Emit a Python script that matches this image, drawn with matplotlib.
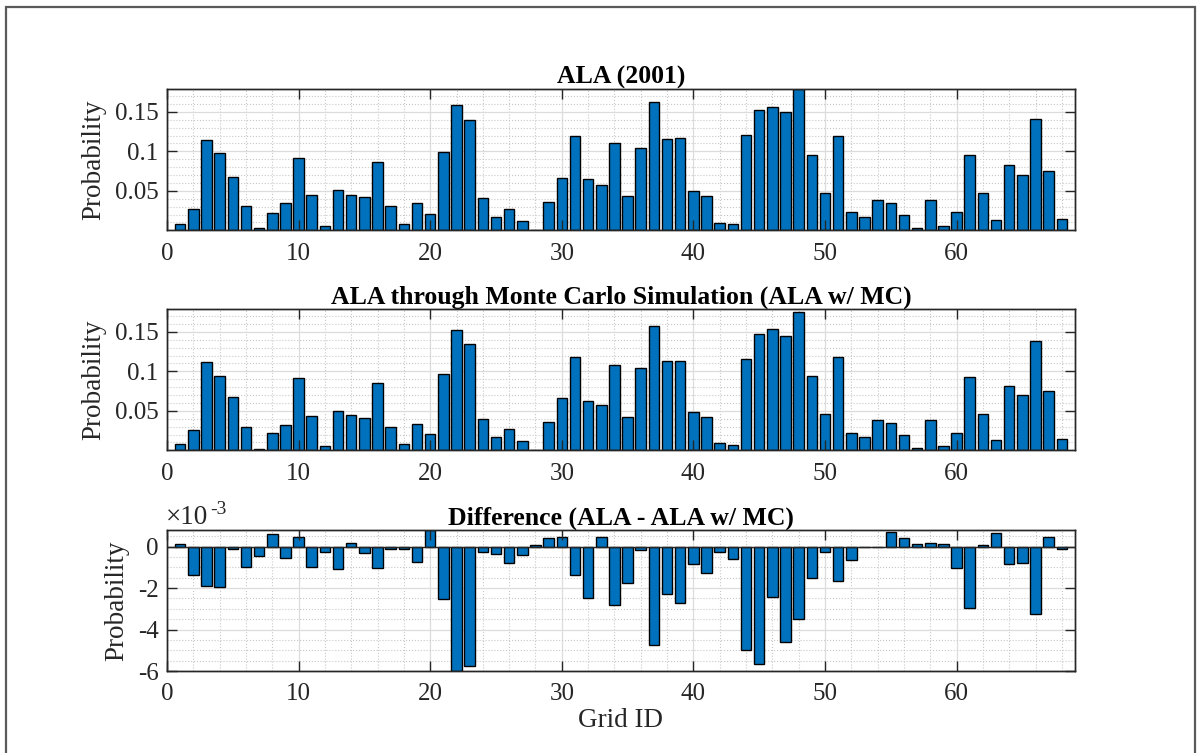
import numpy as np
import matplotlib
matplotlib.use("Agg")
import matplotlib.pyplot as plt
from matplotlib.ticker import MultipleLocator, FixedLocator
from matplotlib.patches import Rectangle

plt.rcParams['font.family'] = ['Liberation Serif', 'DejaVu Serif']

grid_id = np.arange(1, 69)

ala = [0.0085, 0.0276, 0.114, 0.0973, 0.068, 0.0306, 0.003, 0.0217, 0.034, 0.0918,
       0.0446, 0.006, 0.051, 0.045, 0.0417, 0.0867, 0.0306, 0.0085, 0.0349, 0.0204,
       0.0995, 0.1585, 0.140, 0.0408, 0.017, 0.0276, 0.0119, 0.0005, 0.0357, 0.0663,
       0.120, 0.0646, 0.057, 0.111, 0.0434, 0.1046, 0.1624, 0.1152, 0.1165, 0.050,
       0.0438, 0.0098, 0.0077, 0.1207, 0.1526, 0.156, 0.1496, 0.179, 0.0952, 0.0472,
       0.120, 0.023, 0.017, 0.039, 0.0344, 0.019, 0.003, 0.0383, 0.0055, 0.023,
       0.0956, 0.0468, 0.0128, 0.0825, 0.0706, 0.1415, 0.0748, 0.0149]

ala_mc = [0.0076, 0.0254, 0.1115, 0.0946, 0.0674, 0.0293, 0.0013, 0.0216, 0.0327, 0.0916,
          0.0432, 0.0055, 0.0496, 0.0445, 0.0407, 0.0848, 0.0297, 0.0076, 0.0335, 0.0204,
          0.0962, 0.152, 0.1344, 0.0403, 0.0165, 0.0267, 0.0114, 0.0003, 0.0356, 0.0666,
          0.1183, 0.0619, 0.0572, 0.1077, 0.0416, 0.1043, 0.1577, 0.1128, 0.1136, 0.0488,
          0.0424, 0.0093, 0.0068, 0.1158, 0.1471, 0.1535, 0.145, 0.1755, 0.0937, 0.0466,
          0.1179, 0.022, 0.0165, 0.0386, 0.0348, 0.0195, 0.0025, 0.0382, 0.0051, 0.0216,
          0.0924, 0.0462, 0.0131, 0.0814, 0.0695, 0.1382, 0.0746, 0.014]

# difference in units of 1e-3
diff_e3 = [0.13, -1.37, -1.89, -1.97, -0.11, -0.98, -0.47, 0.60, -0.53, 0.47,
           -0.98, -0.27, -1.06, 0.18, -0.29, -1.05, -0.10, -0.10, -0.74, 0.80,
           -2.55, -6.0, -5.76, -0.24, -0.34, -0.81, -0.40, 0.06, 0.40, 0.48,
           -1.39, -2.47, 0.47, -2.84, -1.77, -0.16, -4.74, -2.31, -2.71, -0.84,
           -1.27, -0.24, -0.61, -4.98, -5.65, -2.45, -4.58, -3.47, -1.52, -0.26,
           -1.65, -0.65, -0.02, -0.02, 0.71, 0.40, 0.13, 0.18, 0.13, -1.05,
           -2.95, 0.10, 0.66, -0.82, -0.79, -3.26, 0.44, -0.13]

titles = ['ALA (2001)', 'ALA through Monte Carlo Simulation (ALA w/ MC)',
          'Difference (ALA - ALA w/ MC)']

W, H = 1197, 753
fig = plt.figure(figsize=(W / 100, H / 100), dpi=100)

BAR = '#0072BD'
AXC = '#262626'
left = 167 / W
width = (1075 - 167) / W
boxes = [(89, 230), (309, 450), (530, 671)]

TICK_FS = 18
LAB_FS = 19.5
TIT_FS = 18.5

datasets = [ala, ala_mc, diff_e3]
axes = []
for i, (top, bot) in enumerate(boxes):
    pos = [left, 1 - bot / H, width, (bot - top) / H]
    ax = fig.add_axes(pos)
    ax.set_axisbelow(True)
    ax.bar(grid_id, datasets[i], width=0.8, color=BAR, edgecolor='black',
           linewidth=1.0, zorder=2)
    ax.set_xlim(0, 69)
    ax.xaxis.set_major_locator(FixedLocator([0, 10, 20, 30, 40, 50, 60]))
    ax.xaxis.set_minor_locator(MultipleLocator(2))
    if i < 2:
        ax.set_ylim(0.0004, 0.179)
        ax.yaxis.set_major_locator(FixedLocator([0.05, 0.1, 0.15]))
        ax.yaxis.set_minor_locator(MultipleLocator(0.01))
        ax.set_yticklabels(['0.05', '0.1', '0.15'])
    else:
        ax.set_ylim(-6.0, 0.8)
        ax.yaxis.set_major_locator(FixedLocator([-6, -4, -2, 0]))
        ax.yaxis.set_minor_locator(MultipleLocator(0.5))
        ax.set_yticklabels(['-6', '-4', '-2', '0'])
        ax.axhline(0, color=AXC, lw=1.0, zorder=3)
    ax.grid(which='major', color='#dcdcdc', linewidth=0.9, linestyle='-')
    ax.grid(which='minor', color='#c8c8c8', linewidth=0.8, linestyle=':')
    ax.tick_params(which='major', direction='in', length=0, labelsize=TICK_FS,
                   colors=AXC, labelcolor=AXC)
    ax.tick_params(which='minor', length=0)
    ax.tick_params(axis='x', pad=9)
    ax.tick_params(axis='y', pad=6)
    for s in ax.spines.values():
        s.set_color(AXC)
        s.set_linewidth(1.0)
        s.set_zorder(4)
    ax.set_ylabel('Probability', fontsize=LAB_FS, color=AXC, labelpad=6)
    ax.set_title(titles[i], fontsize=TIT_FS, fontweight='bold', color='black', pad=3)
    # overlay axes for inward ticks drawn above bars
    ov = fig.add_axes(pos, sharex=ax, sharey=ax, zorder=ax.get_zorder() + 1)
    ov.patch.set_visible(False)
    ov.tick_params(which='major', direction='in', length=7, width=1.0, colors=AXC,
                   top=True, right=True, labelbottom=False, labelleft=False)
    ov.tick_params(which='minor', length=0)
    for s in ov.spines.values():
        s.set_color(AXC)
        s.set_linewidth(1.0)
    axes.append(ax)

axes[2].set_xlabel('Grid ID', fontsize=LAB_FS, color=AXC, labelpad=2)
# exponent label (x10^-3)
fig.text(166 / W, 1 - 524 / H, '\u00d710', fontsize=19.5, color=AXC,
         ha='left', va='baseline')
fig.text(210 / W, 1 - 514 / H, '-3', fontsize=14, color=AXC,
         ha='left', va='baseline')

# outer frame
fig.add_artist(Rectangle((6 / W, -0.02), (1195 - 6) / W, 1 - 7 / H + 0.02,
                         transform=fig.transFigure, fill=False,
                         edgecolor='#5a5a5a', linewidth=1.6))

fig.savefig('out.png', dpi=100)
